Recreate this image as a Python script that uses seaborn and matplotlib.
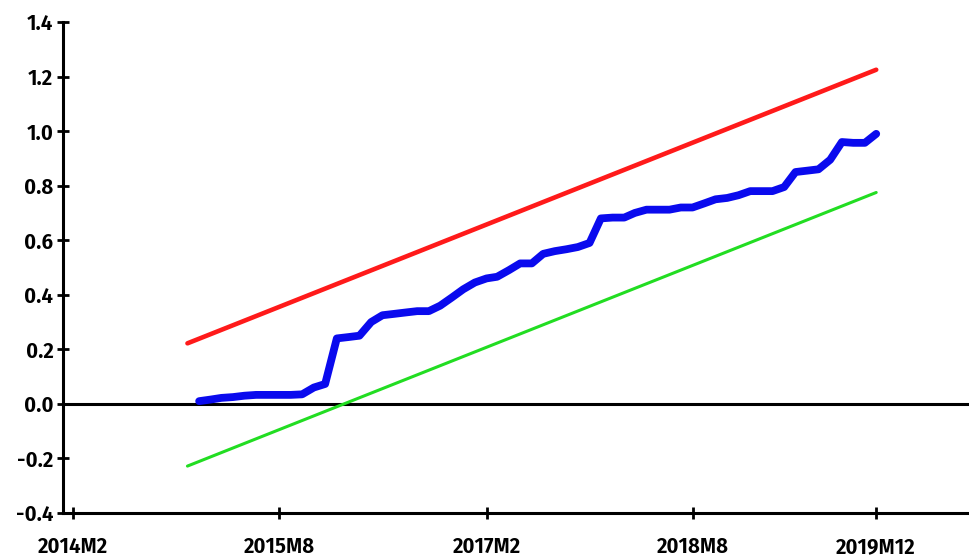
import numpy as np
import pandas as pd
import matplotlib
matplotlib.use("Agg")
import matplotlib.pyplot as plt
from matplotlib.ticker import MultipleLocator
from matplotlib import font_manager
from matplotlib.textpath import TextPath
import seaborn as sns

# ---- data ----
cusumsq_start = "2015-01-01"
cusumsq = [0.010, 0.016, 0.022, 0.025, 0.030, 0.033, 0.033, 0.033, 0.033, 0.035,
           0.060, 0.073, 0.240, 0.245, 0.250, 0.300, 0.325, 0.330, 0.335, 0.340,
           0.340, 0.360, 0.390, 0.420, 0.445, 0.460, 0.466, 0.490, 0.515, 0.515,
           0.550, 0.560, 0.567, 0.575, 0.590, 0.680, 0.683, 0.683, 0.700, 0.712,
           0.712, 0.712, 0.720, 0.720, 0.735, 0.750, 0.755, 0.765, 0.780, 0.780,
           0.780, 0.795, 0.850, 0.855, 0.860, 0.895, 0.960, 0.957, 0.957, 0.990]
bound_dates = ["2014-12-01", "2019-12-01"]
upper_bound = [0.222, 1.225]
lower_bound = [-0.228, 0.775]

tick_dates = ["2014-02-01", "2015-08-01", "2017-02-01", "2018-08-01", "2019-12-01"]
tick_labels = ["2014M2", "2015M8", "2017M2", "2018M8", "2019M12"]

# ---- frames ----
dates = pd.date_range(cusumsq_start, periods=len(cusumsq), freq="MS")
df_main = pd.DataFrame({"date": dates, "value": cusumsq})
df_up = pd.DataFrame({"date": pd.to_datetime(bound_dates), "value": upper_bound})
df_lo = pd.DataFrame({"date": pd.to_datetime(bound_dates), "value": lower_bound})

sns.set_style("white")

# pick a bold condensed face whose proportions match the reference labels
cands = []
for f in font_manager.fontManager.ttflist:
    fn = f.fname
    if (("Condensed" in fn or "Narrow" in fn or f.stretch in ("condensed", "semi-condensed"))
            and ("Bold" in fn or f.weight in ("bold", 700))
            and "Oblique" not in fn and "Italic" not in fn and "Extra" not in fn):
        cands.append(fn)
target_ratio, target_h = 4.3, 16.0
best, best_d, best_h = None, 1e9, None
for fn in cands:
    try:
        tp = TextPath((0, 0), "2014M2", prop=font_manager.FontProperties(fname=fn), size=100)
        ext = tp.get_extents()
        d = abs(ext.width / ext.height - target_ratio)
        if d < best_d:
            best, best_d, best_h = fn, d, ext.height
    except Exception:
        pass
if best:
    size = target_h * 72 / 100 / (best_h / 100)
    fp = font_manager.FontProperties(fname=best, size=size)
else:
    fp = font_manager.FontProperties(family="Liberation Sans", weight="bold", size=13)

fig = plt.figure(figsize=(9.69, 5.57), dpi=100)
ax = fig.add_axes([0.065, 0.079, 0.935, 0.8815])

ax.axhline(0, color="black", lw=2.2, zorder=1)
sns.lineplot(data=df_up, x="date", y="value", color="#ff1a1a", lw=3.3, ax=ax, zorder=2)
sns.lineplot(data=df_lo, x="date", y="value", color="#22dd22", lw=2.2, ax=ax, zorder=2)
sns.lineplot(data=df_main, x="date", y="value", color="#0a0aee", lw=5.6, ax=ax, zorder=3)

ax.set_xlim(pd.Timestamp("2014-01-05"), pd.Timestamp("2020-08-03"))
ax.set_ylim(-0.4, 1.4)
ax.set_xlabel("")
ax.set_ylabel("")

yt = np.round(np.arange(-0.4, 1.41, 0.2), 1)
ax.set_yticks(yt)
ax.set_yticklabels([f"{v:.1f}" for v in yt])
ax.yaxis.set_minor_locator(MultipleLocator(0.1))
ax.set_xticks(pd.to_datetime(tick_dates))
ax.set_xticklabels(tick_labels)

for s in ["top", "right"]:
    ax.spines[s].set_visible(False)
for s in ["left", "bottom"]:
    ax.spines[s].set_color("black")
    ax.spines[s].set_linewidth(2.2)

ax.tick_params(axis="both", which="major", direction="inout", length=8, width=2,
               colors="black", pad=3)
ax.tick_params(axis="y", which="minor", direction="inout", length=8, width=2, colors="black")
ax.tick_params(axis="y", left=True)
ax.tick_params(axis="x", bottom=True, pad=13)
for lab in ax.get_xticklabels() + ax.get_yticklabels():
    lab.set_fontproperties(fp)

fig.savefig("out.png", dpi=100, facecolor="white")
